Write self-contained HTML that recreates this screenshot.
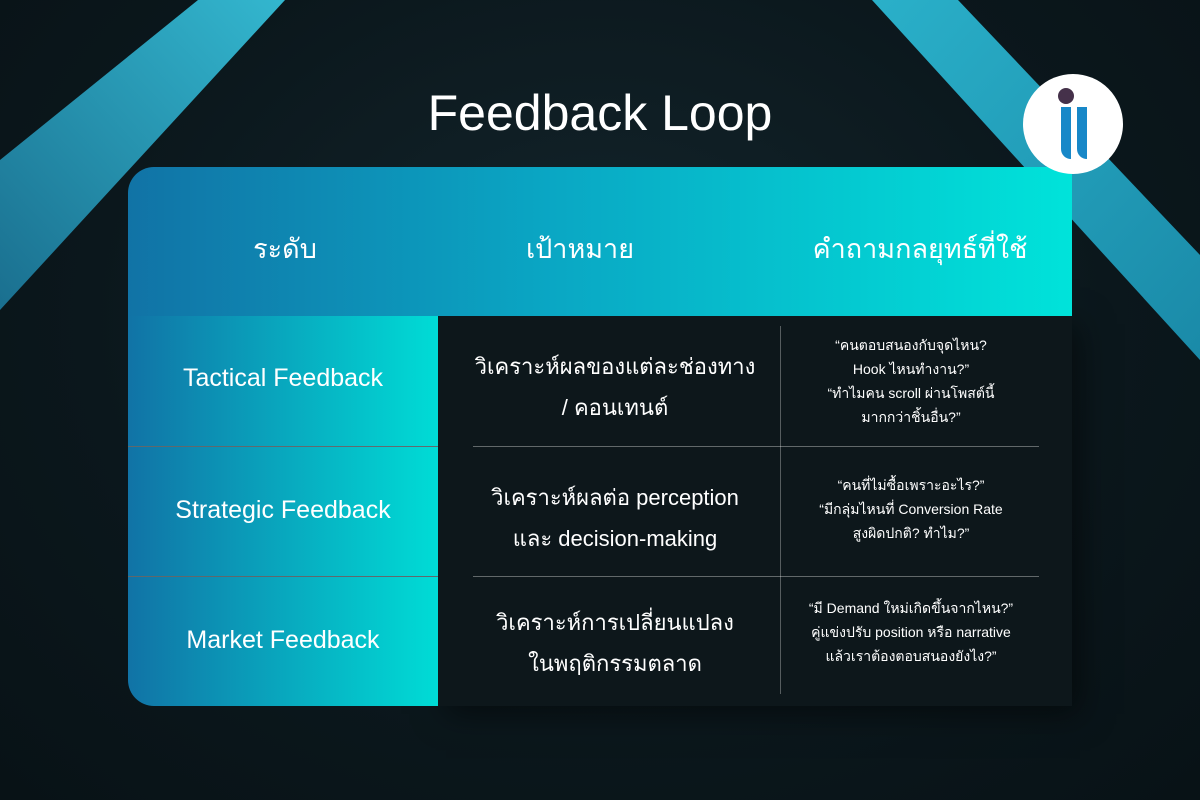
<!DOCTYPE html>
<html><head><meta charset="utf-8"><style>
*{margin:0;padding:0;box-sizing:border-box}
body{width:1200px;height:800px;overflow:hidden;background:radial-gradient(ellipse at 50% 40%,#13252c 0%,#0b171c 60%,#081216 100%);font-family:"Liberation Sans","Noto Sans CJK SC",sans-serif;color:#fff;position:relative}
.abs{position:absolute}
.t{text-align:center;position:absolute}
</style></head><body>
<svg class="abs" style="left:0;top:0" width="1200" height="800">
<defs>
<linearGradient id="b1" x1="0" y1="1" x2="1" y2="0"><stop offset="0" stop-color="#1a6f8f"/><stop offset="1" stop-color="#33b7cf"/></linearGradient>
<linearGradient id="b2" x1="0" y1="0" x2="1" y2="1"><stop offset="0" stop-color="#2ab0c9"/><stop offset="1" stop-color="#1a8aa8"/></linearGradient>
</defs>
<polygon points="198,0 285,0 0,310 0,160" fill="url(#b1)"/>
<polygon points="872,0 958,0 1200,255 1200,360" fill="url(#b2)"/>
</svg>
<div class="t" style="left:0;width:1200px;top:84px;font-size:50px;">Feedback Loop</div>
<div class="abs" style="left:438px;top:316px;width:634px;height:390px;background:#0d171b;box-shadow:8px 8px 30px rgba(0,0,0,.5)"></div>
<div class="abs" style="left:128px;top:167px;width:944px;height:149px;border-radius:26px 0 0 0;background:linear-gradient(90deg,#1173a6 0%,#0aa7c4 45%,#00e3da 100%)"></div>
<div class="t" style="left:180px;width:210px;top:227px;font-size:27px">ระดับ</div>
<div class="t" style="left:480px;width:200px;top:227px;font-size:27px">เป้าหมาย</div>
<div class="t" style="left:790px;width:260px;top:227px;font-size:27px">คำถามกลยุทธ์ที่ใช้</div>
<div class="abs" style="left:128px;top:316px;width:310px;height:130px;background:linear-gradient(90deg,#1173a6,#00dcd6)"></div>
<div class="abs" style="left:128px;top:447px;width:310px;height:129px;background:linear-gradient(90deg,#1173a6,#00dcd6)"></div>
<div class="abs" style="left:128px;top:577px;width:310px;height:129px;border-radius:0 0 0 26px;background:linear-gradient(90deg,#1173a6,#00dcd6)"></div>
<div class="abs" style="left:128px;top:446px;width:310px;height:1px;background:rgba(255,255,255,.35)"></div>
<div class="abs" style="left:128px;top:576px;width:310px;height:1px;background:rgba(255,255,255,.35)"></div>
<div class="t" style="left:128px;width:310px;top:364px;font-size:25px">Tactical Feedback</div>
<div class="t" style="left:128px;width:310px;top:496px;font-size:25px">Strategic Feedback</div>
<div class="t" style="left:128px;width:310px;top:626px;font-size:25px">Market Feedback</div>
<div class="abs" style="left:780px;top:326px;width:1px;height:368px;background:rgba(255,255,255,.3)"></div>
<div class="abs" style="left:473px;top:446px;width:566px;height:1px;background:rgba(255,255,255,.35)"></div>
<div class="abs" style="left:473px;top:576px;width:566px;height:1px;background:rgba(255,255,255,.35)"></div>
<div class="t" style="left:455px;width:320px;top:346px;font-size:22px;line-height:41px">วิเคราะห์ผลของแต่ละช่องทาง<br>/ คอนเทนต์</div>
<div class="t" style="left:455px;width:320px;top:477px;font-size:22px;line-height:41px">วิเคราะห์ผลต่อ perception<br>และ decision-making</div>
<div class="t" style="left:455px;width:320px;top:602px;font-size:22px;line-height:41px">วิเคราะห์การเปลี่ยนแปลง<br>ในพฤติกรรมตลาด</div>
<div class="t" style="left:782px;width:258px;top:333px;font-size:14px;line-height:24px">“คนตอบสนองกับจุดไหน?<br>Hook ไหนทำงาน?”<br>“ทำไมคน scroll ผ่านโพสต์นี้<br>มากกว่าชิ้นอื่น?”</div>
<div class="t" style="left:782px;width:258px;top:473px;font-size:14px;line-height:24px">“คนที่ไม่ซื้อเพราะอะไร?”<br>“มีกลุ่มไหนที่ Conversion Rate<br>สูงผิดปกติ? ทำไม?”</div>
<div class="t" style="left:782px;width:258px;top:596px;font-size:14px;line-height:24px">“มี Demand ใหม่เกิดขึ้นจากไหน?”<br>คู่แข่งปรับ position หรือ narrative<br>แล้วเราต้องตอบสนองยังไง?”</div>
<div class="abs" style="left:1023px;top:74px;width:100px;height:100px;border-radius:50%;background:#fff"></div>
<div class="abs" style="left:1058px;top:88px;width:16px;height:16px;border-radius:50%;background:#45314a"></div>
<div class="abs" style="left:1061px;top:107px;width:10px;height:52px;background:#1888c8;border-radius:0 0 0 10px"></div>
<div class="abs" style="left:1077px;top:107px;width:10px;height:52px;background:#1888c8;border-radius:0 0 0 10px"></div>
</body></html>
